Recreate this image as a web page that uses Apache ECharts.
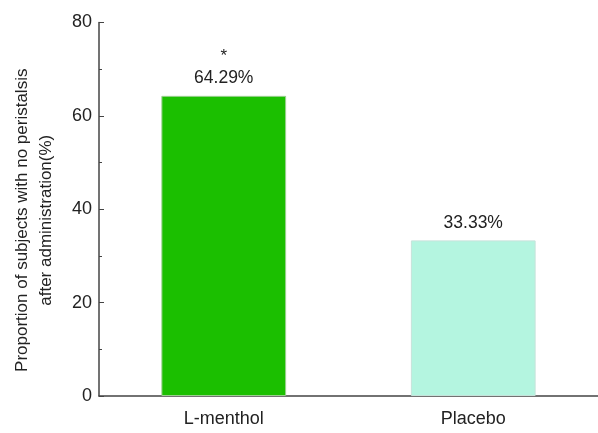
<!DOCTYPE html>
<html>
<head>
<meta charset="utf-8">
<script src="https://cdn.jsdelivr.net/npm/echarts@6/dist/echarts.min.js"></script>
<style>
  html, body { margin: 0; padding: 0; background: #fff; }
  #chart { width: 598px; height: 433px; }
</style>
</head>
<body>
<div id="chart"></div>
<script>
// Groups and their proportions (%)
const categories = ['L-menthol', 'Placebo'];
const proportions = [64.29, 33.33];
const significance = ['*', ''];
const barColors = ['#1bbf00', '#b4f5e0'];
const barBorders = ['#9ccf90', '#c6e2da'];
const yTicks = [0, 20, 40, 60, 80];

const chart = echarts.init(document.getElementById('chart'));
const font = 'Liberation Sans, Arial, Helvetica, sans-serif';
const axisColor = '#444';

chart.setOption({
  animation: false,
  backgroundColor: '#fff',
  textStyle: { fontFamily: font },
  grid: { left: 99, right: -1, top: 22.5, bottom: 37, containLabel: false },
  xAxis: {
    type: 'category',
    data: categories,
    axisLine: { lineStyle: { color: axisColor, width: 1.5 } },
    axisTick: { alignWithLabel: true, length: 5, lineStyle: { color: axisColor } },
    axisLabel: { fontSize: 18, color: '#222', margin: 14, fontFamily: font }
  },
  yAxis: {
    type: 'value',
    min: yTicks[0],
    max: yTicks[yTicks.length - 1],
    interval: 20,
    name: 'Proportion of subjects with no peristalsis\nafter administration(%)',
    nameLocation: 'middle',
    nameGap: 41,
    nameTextStyle: { fontSize: 17, color: '#222', lineHeight: 24, fontFamily: font, padding: [0, 22, 0, 0] },
    axisLine: { show: true, lineStyle: { color: axisColor, width: 1.5 } },
    axisTick: { show: true, inside: true, length: 5, lineStyle: { color: axisColor } },
    minorTick: { show: true, splitNumber: 2, length: 3, lineStyle: { color: axisColor } },
    axisLabel: { fontSize: 18, color: '#222', margin: 7, fontFamily: font },
    splitLine: { show: false }
  },
  series: [{
    type: 'bar',
    barWidth: '50%',
    data: proportions.map((v, i) => ({
      value: v,
      itemStyle: { color: barColors[i], borderColor: barBorders[i], borderWidth: 1 }
    })),
    label: {
      show: true,
      position: 'top',
      distance: 7,
      formatter: (p) => {
        const mark = significance[p.dataIndex];
        const txt = p.value.toFixed(2) + '%';
        return mark ? '{s|' + mark + '}\n{v|' + txt + '}' : '{v|' + txt + '}';
      },
      rich: {
        s: { fontSize: 17, color: '#222', lineHeight: 22, fontFamily: font, padding: [0, 0, 2, 0] },
        v: { fontSize: 17.5, color: '#222', lineHeight: 21, fontFamily: font }
      }
    }
  }]
});
</script>
</body>
</html>
